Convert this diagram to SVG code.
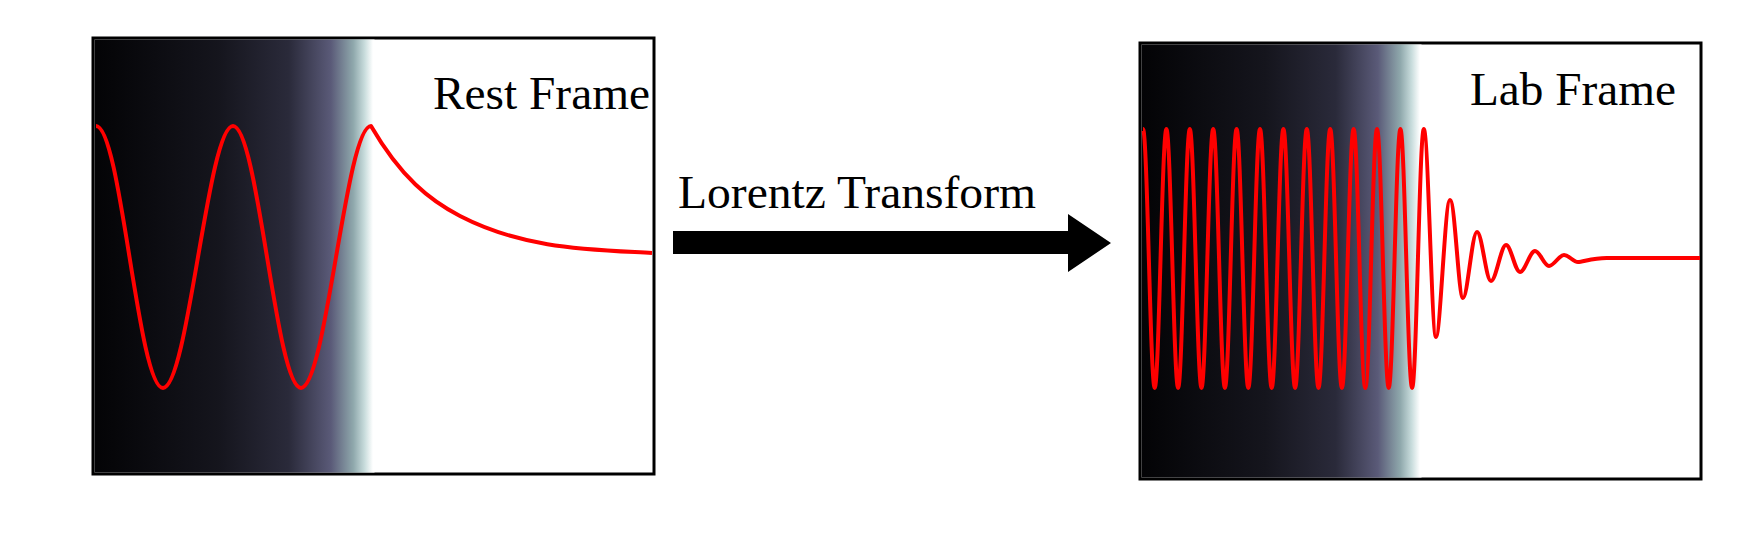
<svg xmlns="http://www.w3.org/2000/svg" width="1763" height="536" viewBox="0 0 1763 536">
<style>
.lbl{font-family:"Liberation Serif",serif;font-size:46px;fill:#000}
.wave{fill:none;stroke:#ff0000;stroke-width:4;stroke-linejoin:round}
.box{stroke:#000;stroke-width:3}
</style>
<defs>
<linearGradient id="gL" gradientUnits="userSpaceOnUse" x1="92" y1="0" x2="373" y2="0">
<stop offset="0" stop-color="#030305"/>
<stop offset="0.45" stop-color="#15151d"/>
<stop offset="0.7" stop-color="#2a2a3a"/>
<stop offset="0.85" stop-color="#5a5a78"/>
<stop offset="0.93" stop-color="#8fa8ac"/>
<stop offset="0.97" stop-color="#c8dcdc"/>
<stop offset="1" stop-color="#ffffff"/>
</linearGradient>
<linearGradient id="gR" gradientUnits="userSpaceOnUse" x1="1139" y1="0" x2="1420" y2="0">
<stop offset="0" stop-color="#030305"/>
<stop offset="0.45" stop-color="#15151d"/>
<stop offset="0.7" stop-color="#2a2a3a"/>
<stop offset="0.85" stop-color="#5a5a78"/>
<stop offset="0.93" stop-color="#8fa8ac"/>
<stop offset="0.97" stop-color="#c8dcdc"/>
<stop offset="1" stop-color="#ffffff"/>
</linearGradient>
</defs>
<g id="rest-frame">
<rect class="box" x="93" y="38" width="561" height="436" fill="#fff"/>
<rect x="94.5" y="39.5" width="280" height="433" fill="url(#gL)"/>
<path class="wave" d="M96 126 C121 126 138 388 163 388 S208 126 233 126 S276 388 301 388 S346 126 371 126 C401 177.6 430 200.5 460 216 C524 249 588 249.4 652 253"/>
<text class="lbl" x="433" y="109" textLength="217" lengthAdjust="spacingAndGlyphs">Rest Frame</text>
</g>
<g id="connectors">
<polygon points="673,231 1068,231 1068,214 1111,243 1068,272 1068,254 673,254" fill="#000"/>
<text class="lbl" x="678" y="208" textLength="358" lengthAdjust="spacingAndGlyphs">Lorentz Transform</text>
</g>
<g id="lab-frame">
<rect class="box" x="1140" y="43" width="561" height="436" fill="#fff"/>
<rect x="1141.5" y="44.5" width="280" height="433" fill="url(#gR)"/>
<path class="wave" d="M1143 129 C1147.3 129 1150.4 388 1154.7 388 S1162.1 129 1166.4 129 S1173.8 388 1178.1 388 S1185.5 129 1189.8 129 S1197.2 388 1201.5 388 S1208.9 129 1213.2 129 S1220.6 388 1224.9 388 S1232.3 129 1236.6 129 S1244 388 1248.3 388 S1255.7 129 1260 129 S1267.4 388 1271.7 388 S1279.1 129 1283.4 129 S1290.8 388 1295.1 388 S1302.5 129 1306.8 129 S1314.2 388 1318.5 388 S1325.9 129 1330.2 129 S1337.6 388 1341.9 388 S1349.3 129 1353.6 129 S1360.9 388 1365.3 388 S1372.7 129 1377 129 S1384.4 388 1388.7 388 S1396.1 129 1400.4 129 S1407.8 388 1412.1 388 S1419.5 129 1423.8 129 S1431.7 337 1436 337 S1445 200 1450 200 S1458.5 298 1463 298 S1472 232 1477 232 S1486 281 1491 281 S1501 245 1506 245 S1515 272 1520 272 S1530 251 1535 251 S1544 266 1549 266 S1559 255 1564 255 S1573 262 1578 262 S1595 257 1610 258 L1700 258"/>
<text class="lbl" x="1470" y="105" textLength="206" lengthAdjust="spacingAndGlyphs">Lab Frame</text>
</g>
</svg>
